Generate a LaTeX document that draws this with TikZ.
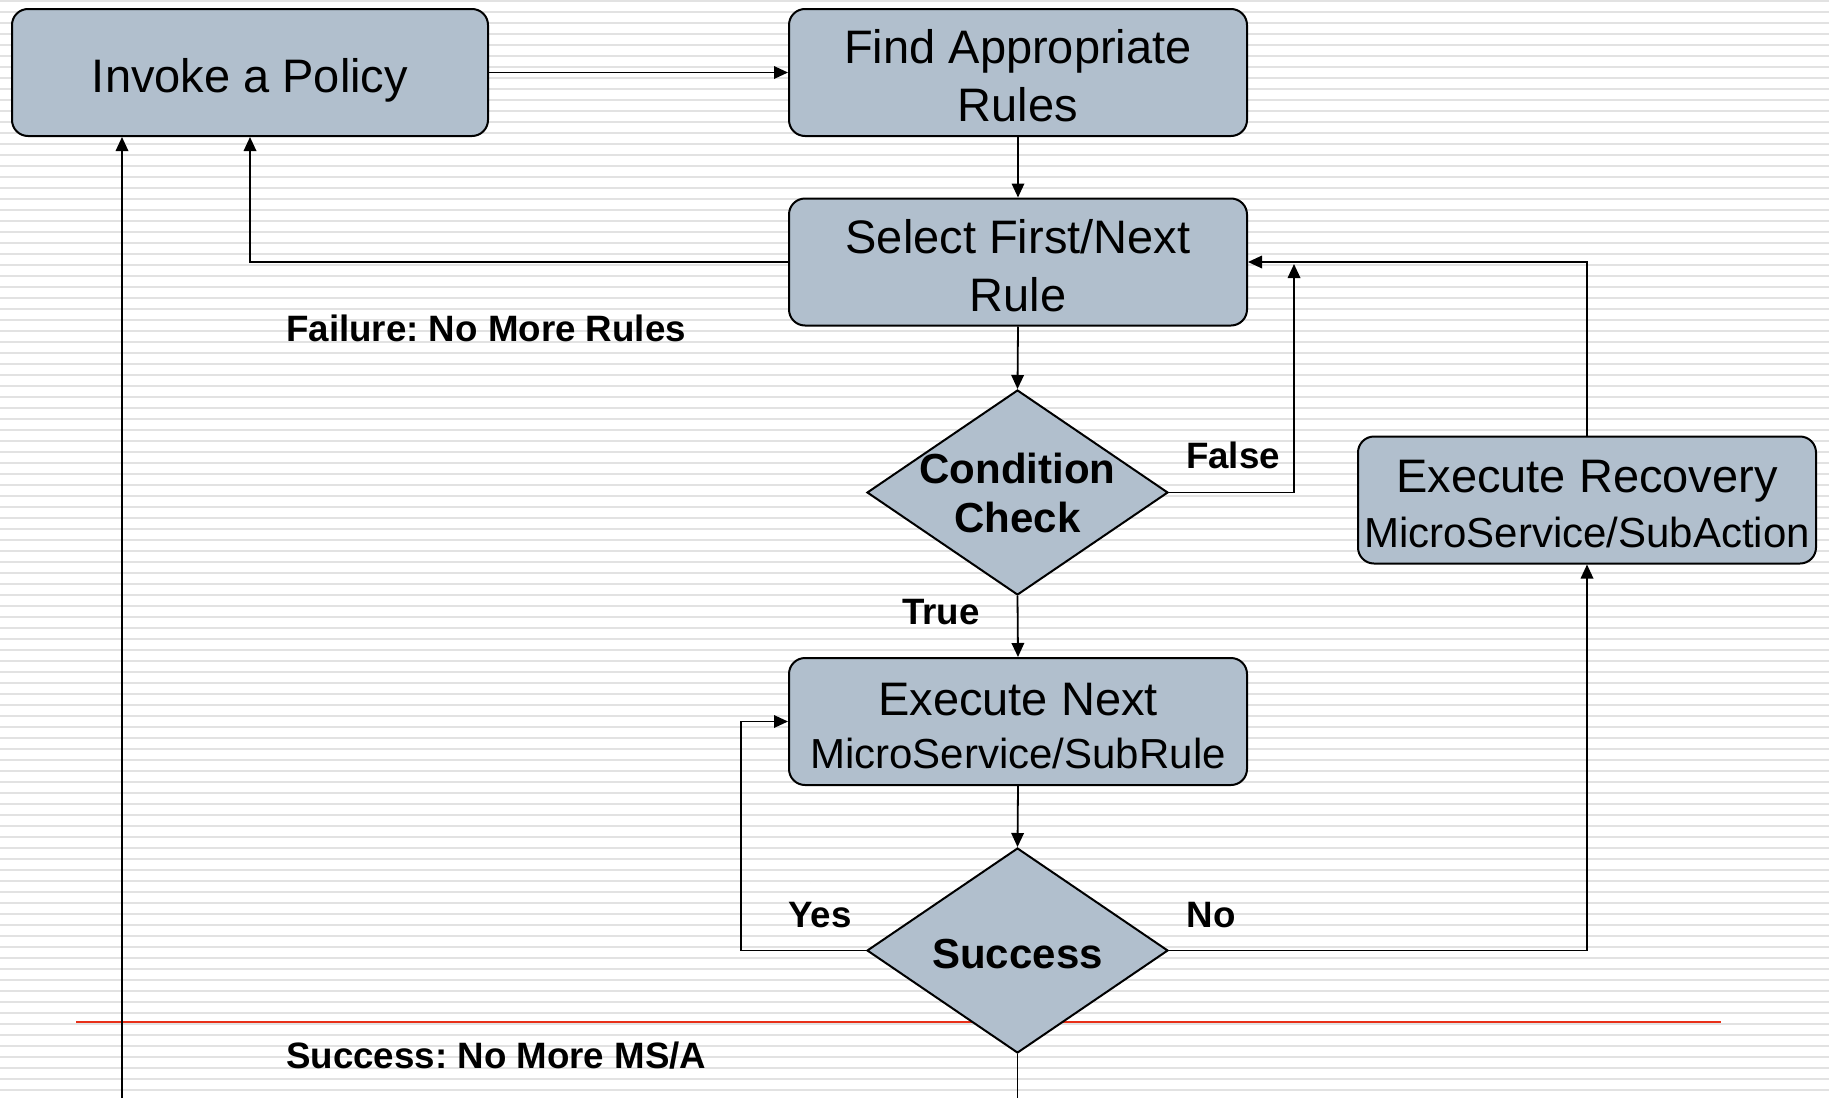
\documentclass[tikz,border=0pt]{standalone}
\usepackage{fontspec}
\setmainfont{Liberation Sans}
\usetikzlibrary{arrows.meta,shapes.geometric,calc}
\definecolor{boxfill}{RGB}{177,191,205}
\definecolor{stripegray}{RGB}{226,226,226}
\definecolor{redrule}{RGB}{232,48,24}
\frenchspacing

\begin{document}
\begin{tikzpicture}[x=1pt,y=-1pt,
  procbox/.style={draw=black, line width=2pt, fill=boxfill, rounded corners=16pt,
    minimum width=458pt, minimum height=127pt, inner sep=0pt},
  btext/.style={inner sep=0pt, align=center, font=\fontsize{47}{57.5}\selectfont},
  decision/.style={draw=black, line width=2pt, fill=boxfill, shape=diamond,
    minimum width=301pt, minimum height=205pt, inner sep=0pt},
  dtext/.style={font=\bfseries\fontsize{42}{49}\selectfont, align=center, inner sep=0pt},
  lbl/.style={font=\bfseries\fontsize{36.7}{44}\selectfont, inner sep=0pt},
  conn/.style={line width=1.8pt, draw=black},
  arr/.style={conn, -{Triangle[length=14pt,width=12.5pt]}},
]
\useasboundingbox (0,0) rectangle (1829,1098);

% striped background
\fill[white] (0,0) rectangle (1829,1098);
\foreach \k in {0,...,99}
  \fill[stripegray] (0,{1+11*\k-1.3}) rectangle (1829,{1+11*\k+1.3});

% thin red rule across the lower part
\coordinate (redL) at (76,1022);
\coordinate (redR) at (1721,1022);
\draw[redrule, line width=1.5pt] (redL) -- (redR);

% process boxes
\node[procbox, minimum width=476pt] (inv) at (250,72.5) {};
\node[procbox] (find) at (1018,72.5) {};
\node[procbox] (sel)  at (1018,262)  {};
\node[procbox] (exn)  at (1018,721.5) {};
\node[procbox] (rec)  at (1587,500)  {};

% box texts
\node[btext] (invT)  at ($(inv.center)+(0,8)$)  {Invoke a Policy};
\node[btext] (findT) at ($(find.center)+(0,3)$) {Find Appropriate\\Rules};
\node[btext] (selT)  at ($(sel.center)+(0,3.5)$) {Select First/Next\\Rule};
\node[btext] (exnT)  at ($(exn.center)+(0,5)$)  {Execute Next\\[-4.5pt]{\fontsize{42}{50}\selectfont MicroService/SubRule}};
\node[btext] (recT)  at ($(rec.center)+(0,4)$)  {Execute Recovery\\[-3pt]{\fontsize{42}{50}\selectfont MicroService/SubAction}};

% decisions
\node[decision] (cond) at (1017.5,492.5) {};
\node[dtext] (condT) at ($(cond.center)+(0,0.7)$) {Condition\\Check};
\node[decision] (succ) at (1017.5,950.5) {};
\node[dtext] (succT) at ($(succ.center)+(0,4)$) {Success};

% free ends
\coordinate (leftEnd) at (122,1098);
\coordinate (bottomEnd) at (1017.5,1098);
\coordinate (falseTip) at (1294,264);
\coordinate (yesX) at (741,950.5);

% connectors
\draw[arr] (inv.east) -- (find.west);
\draw[arr] (find.south) -- (sel.north);
\draw[arr] (sel.west) -| (inv.south);
\draw[arr] (sel.south) -- (cond.north);
\draw[arr] (cond.east) -| (falseTip);
\draw[arr] (rec.north) |- (sel.east);
\draw[arr] (cond.south) -- (exn.north);
\draw[arr] (exn.south) -- (succ.north);
\draw[arr] (succ.west) -- (yesX) |- (exn.west);
\draw[arr] (succ.east) -| (rec.south);
\draw[conn] (succ.south) -- (bottomEnd);
\draw[arr] (leftEnd) -- (leftEnd |- inv.south);

% labels
\node[lbl, anchor=west] (failLbl) at (286,328) {Failure: No More Rules};
\node[lbl] (falseLbl) at (1233,455) {False};
\node[lbl] (trueLbl) at (941,612) {True};
\node[lbl] (yesLbl) at (820,915) {Yes};
\node[lbl] (noLbl) at (1211,915) {No};
\node[lbl, anchor=west] (succLbl) at (286,1056) {Success: No More MS/A};
\end{tikzpicture}
\end{document}
